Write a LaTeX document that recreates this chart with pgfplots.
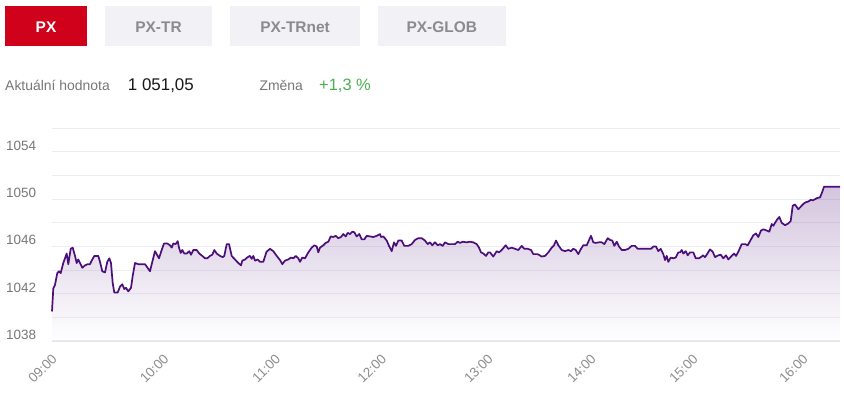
\documentclass[border=0pt]{standalone}
\usepackage{fontspec}
\setmainfont{Liberation Sans}
\usepackage{pgfplots}
\pgfplotsset{compat=1.18}
\usepackage{pgfplotstable}
\definecolor{pxred}{HTML}{D0021B}
\definecolor{btngray}{HTML}{F2F2F6}
\definecolor{btntext}{HTML}{8A8A90}
\definecolor{lbl}{HTML}{777777}
\definecolor{ticklbl}{HTML}{8C8C8C}
\definecolor{chg}{HTML}{4CAF50}
\definecolor{linec}{HTML}{4B0E7A}
\definecolor{gridc}{HTML}{ECECF2}
\definecolor{axisc}{HTML}{E4E4EE}

% x = horizontal position on the (ordinal) time axis, y = index value
\pgfplotstableread{
x y
52 1040.5
53.3 1042.45
55 1042.75
57.3 1043.75
59 1043.9
60.7 1043.75
63.3 1044.6
66.7 1045.4
68.3 1044.5
70.7 1045.8
72.7 1045.9
75 1045.2
76.7 1044.6
78.3 1044.9
80 1044.6
82.3 1044.2
85 1044.4
87.7 1044.5
90 1044.5
91.7 1044.8
94.3 1045.2
98.3 1045.2
100 1044.7
102.3 1043.9
105 1043.8
107.3 1044.7
109.3 1045.0
111 1044.6
112.7 1042.9
114.3 1042.1
117.7 1042.1
120 1042.6
122.3 1042.8
124.3 1042.4
126 1042.5
128.3 1042.2
131 1042.5
132.7 1043.5
135 1044.6
138.3 1044.5
141.7 1044.5
145 1044.5
146.7 1044.3
150 1043.9
152.3 1044.7
155 1045.6
159 1045.0
161.7 1045.7
164 1046.25
167.3 1046.25
170 1046.1
171.7 1045.9
173.3 1046.25
175.7 1046.2
177.7 1046.45
179 1045.9
180.7 1045.45
182.3 1045.7
184.3 1045.4
186.7 1045.4
189.3 1045.6
191 1045.3
193.3 1045.7
196.7 1045.7
199.3 1045.4
202.3 1045.2
205 1045.0
207.3 1045.0
210 1045.2
212.3 1045.3
214.3 1045.7
216.7 1045.4
220 1045.2
222.7 1045.1
224.3 1045.2
226.7 1046.2
229 1046.2
231.7 1045.2
235 1044.9
238.3 1044.6
241 1044.4
242.3 1044.8
245 1044.9
247.7 1045.1
250 1045.2
251.7 1044.95
253.3 1045.2
255 1044.8
257.7 1044.9
260 1044.7
263.3 1044.7
266.5 1045.55
270 1045.8
273.3 1045.6
276.7 1045.2
280 1044.85
282.3 1044.5
285 1044.8
288.3 1044.9
291 1045.06
293.3 1045.0
295.7 1045.2
298.3 1045.0
300 1044.7
302.3 1045.06
305 1045.0
308.3 1045.5
311.7 1045.9
314.3 1046.1
316.7 1046.0
318.3 1045.5
320 1045.9
323.3 1046.1
325.7 1046.3
328.3 1046.4
330.7 1046.85
333.3 1046.8
335.7 1046.9
338.3 1046.7
341 1046.8
343.3 1047.05
345.7 1046.85
347.7 1047.15
350 1047.05
352.3 1047.25
354.3 1047.2
356.7 1046.85
359.3 1047.05
361.7 1046.6
364.3 1046.6
366.7 1046.9
370 1046.85
373.3 1046.8
376.7 1046.9
380 1047.05
381 1046.8
383.3 1046.85
386.7 1046.5
389 1046.05
391.7 1045.6
394 1046.35
396 1046.05
398.3 1046.5
401.7 1046.5
404.3 1046.05
408.3 1046.05
411.7 1046.2
415 1046.55
418.3 1046.7
421.7 1046.7
425 1046.5
427.7 1046.2
430 1046.35
432.3 1046.1
435 1046.35
437.7 1046.1
440 1046.2
442.7 1046.05
445 1046.35
448.3 1046.2
452.3 1046.2
455 1046.2
457.7 1046.4
460 1046.3
462.7 1046.4
466.7 1046.35
470 1046.4
473.3 1046.35
476.7 1046.2
479 1045.9
481 1045.5
483.3 1045.4
486 1045.2
488.3 1045.5
490 1045.5
493.3 1045.15
496.7 1045.6
499 1045.5
501.7 1045.7
505.7 1046.1
508.3 1045.8
511.7 1045.9
515 1045.8
518.3 1045.7
521.7 1046.05
524.3 1045.8
527.7 1045.8
531 1045.7
533.3 1045.35
537.7 1045.35
541.7 1045.15
545 1045.2
548.3 1045.5
551.7 1045.9
554 1046.1
556 1046.5
558.3 1046.1
561.7 1045.7
565 1045.6
568.3 1045.7
571 1045.6
573.3 1045.8
575.7 1045.7
578.3 1045.35
581 1045.8
583.3 1046.1
586.7 1046.1
588.3 1046.4
591 1046.9
593.3 1046.35
595.7 1046.3
599 1046.35
601.7 1046.35
604.3 1046.2
607.7 1046.7
610 1046.55
612.3 1046.5
614.3 1046.05
616.7 1046.4
619 1046.0
621.7 1045.7
625 1045.7
628.3 1045.8
631.7 1046.05
635 1046.05
637.7 1045.8
641.7 1045.8
646.7 1045.8
651 1045.8
653.3 1046.0
656 1046.0
658.3 1045.6
660.7 1045.8
663.3 1045.35
665 1044.85
666.7 1045.2
668.3 1044.7
670.7 1045.06
673.3 1045.0
675.7 1045.06
678.3 1045.5
680 1045.5
681.7 1045.7
683.3 1045.4
685.7 1045.6
687.7 1045.25
690 1045.5
693.3 1045.5
695.7 1045.0
699 1045.0
701.7 1045.15
703 1045.25
705 1045.1
706.7 1045.3
710 1045.75
712.7 1045.55
715 1045.1
718.3 1045.25
720.7 1045.3
723.3 1045.0
726 1045.25
728.3 1044.9
731.7 1045.2
734 1045.4
736 1045.2
738.3 1045.55
741.7 1046.2
745 1046.2
747.7 1046.1
750 1046.45
753.3 1046.95
756 1047.1
758.3 1046.8
761 1047.35
763.3 1047.45
766.7 1047.35
769.3 1047.25
771.7 1047.9
773.3 1047.75
775 1048.0
777.3 1048.3
779.3 1048.5
781.7 1048.0
785 1047.8
788.3 1047.95
790.7 1048.15
792.7 1049.45
795 1049.55
798.3 1049.15
801.7 1049.45
804 1049.65
806 1049.75
808.3 1049.8
810.7 1049.95
812.7 1049.9
815 1050.0
817.3 1050.1
820 1050.15
821.7 1050.5
824 1051.05
840 1051.05
}\pxdata

\begin{document}
\begin{tikzpicture}[x=1bp,y=1bp]
\useasboundingbox (0,0) rectangle (844,399);
\fill[white] (0,0) rectangle (844,399);
% tabs
\fill[pxred] (5,353.3) rectangle (87,393);
\fill[btngray] (105,353.3) rectangle (212,393);
\fill[btngray] (230,353.3) rectangle (360,393);
\fill[btngray] (377.7,353.3) rectangle (506,393);
\begin{scope}[every node/.style={anchor=base, inner sep=0pt, font=\fontsize{15.5}{18}\selectfont\bfseries}]
\node[text=white] at (46,366.5) {PX};
\node[text=btntext] at (158.5,366.5) {PX-TR};
\node[text=btntext] at (295,366.5) {PX-TRnet};
\node[text=btntext] at (441.8,366.5) {PX-GLOB};
\end{scope}
% value line
\node[anchor=base west, inner sep=0pt, text=lbl, font=\fontsize{14}{16}\selectfont] at (5,309) {Aktuální hodnota};
\node[anchor=base west, inner sep=0pt, text=black!90, font=\fontsize{17}{20}\selectfont] at (127.7,309) {1 051,05};
\node[anchor=base west, inner sep=0pt, text=lbl, font=\fontsize{14}{16}\selectfont] at (259.3,309) {Změna};
\node[anchor=base west, inner sep=0pt, text=chg, font=\fontsize{16.5}{19}\selectfont] at (319,309) {+1,3 \%};

\begin{axis}[
  at={(52bp,58bp)}, anchor=south west, scale only axis,
  width=788bp, height=212.7bp,
  xmin=52, xmax=840, ymin=1038, ymax=1056,
  axis x line*=bottom, axis y line*=left,
  x axis line style={-, draw=axisc, line width=1.6bp},
  y axis line style={draw=none},
  major tick length=0pt, minor tick length=0pt,
  tick style={draw=none},
  ytick={1038,1042,1046,1050,1054},
  yticklabels={1038,1042,1046,1050,1054},
  minor ytick={1040,1044,1048,1052,1056},
  ymajorgrids, yminorgrids,
  grid style={draw=gridc, line width=0.9bp},
  minor grid style={draw=gridc, line width=0.9bp},
  yticklabel style={anchor=base west, inner sep=0pt, xshift=-46bp, yshift=1.5bp,
    text=lbl, font=\fontsize{13.5}{15}\selectfont},
  xtick={52,163.7,275.4,381.4,488,591,693,803},
  xticklabels={09:00,10:00,11:00,12:00,13:00,14:00,15:00,16:00},
  xticklabel style={xshift=2.5bp, yshift=-15.5bp, rotate=45, anchor=east, inner sep=0pt,
    text=ticklbl, font=\fontsize{13.5}{15}\selectfont},
  clip=false,
]
\addplot[draw=none, top color=linec, bottom color=white, fill opacity=0.24, mark=none]
  table {\pxdata} |- (52,1038) -- cycle;
\addplot[draw=linec, line width=1.7bp, mark=none, line join=round] table {\pxdata};
\end{axis}
\end{tikzpicture}
\end{document}
